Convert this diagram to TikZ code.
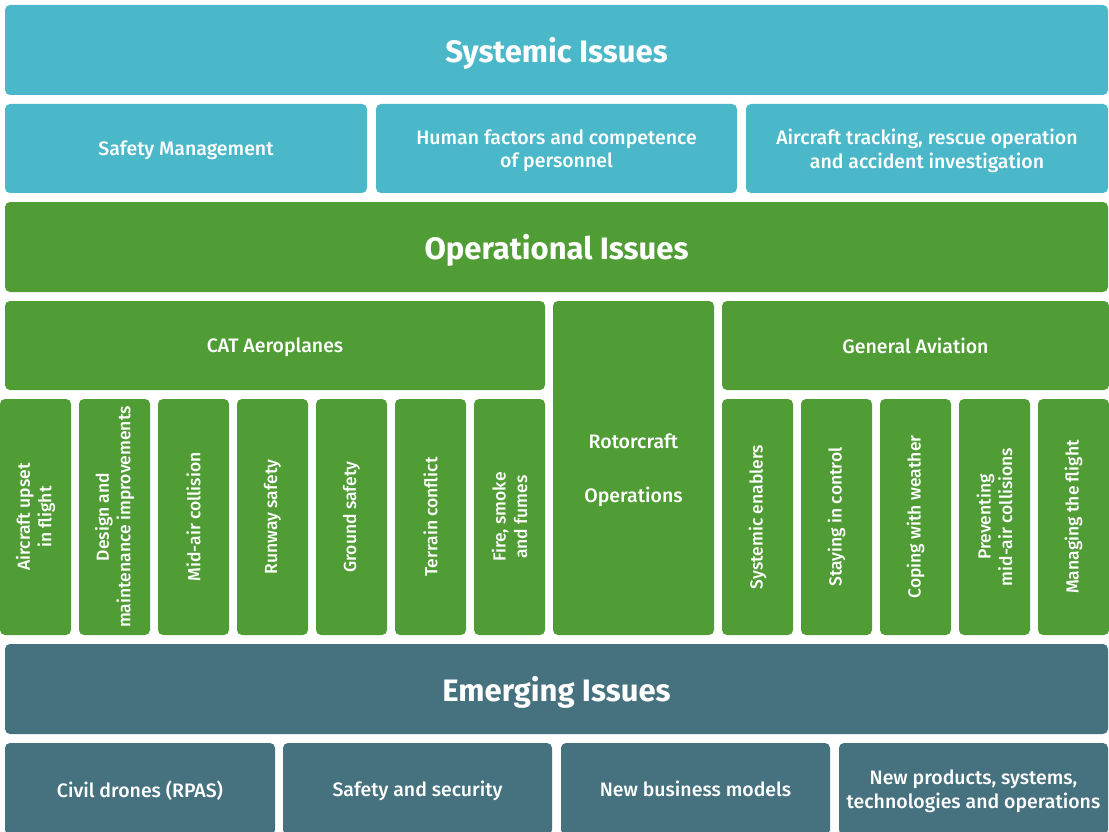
\documentclass[tikz,border=0pt]{standalone}
\usepackage{fontspec}
\setmainfont{Fira Sans}[UprightFont=* Medium, BoldFont=* Bold]
\usepackage{xcolor}
\usepackage{tikz}

\definecolor{sysblue}{HTML}{4BB8CA}
\definecolor{opgreen}{HTML}{509D36}
\definecolor{emteal}{HTML}{46727F}

\begin{document}
\begin{tikzpicture}[x=1pt, y=-1pt,
		tile/.style={rounded corners=5pt, inner sep=0pt, outer sep=0pt, text=white, align=center},
		headtile/.style={tile, text depth=0pt, minimum width=1103pt, minimum height=90pt, font=\fontsize{31}{36}\selectfont\bfseries},
		subtile/.style={tile, text depth=0pt, minimum height=89pt, font=\fontsize{19.5}{23.5}\selectfont},
		issuetile/.style={tile, fill=opgreen, rotate=90, minimum width=236pt, minimum height=71pt, font=\fontsize{17.5}{21.5}\selectfont}]
		\clip (0,0) rectangle (1109,832);
		\fill[white] (0,0) rectangle (1109,832);
		% systemic issues
		\node[headtile, fill=sysblue] (systemic) at (556.5,50) {Systemic Issues};
		\node[subtile, fill=sysblue, minimum width=362pt] (safetymgmt) at (186,148.5) {Safety Management};
		\node[subtile, fill=sysblue, minimum width=361pt] (humanfactors) at (556.5,148.5) {Human factors and competence\\of personnel};
		\node[subtile, fill=sysblue, minimum width=362pt] (tracking) at (927,148.5) {Aircraft tracking, rescue operation\\and accident investigation};
		% operational issues
		\node[headtile, fill=opgreen] (operational) at (556.5,247) {Operational Issues};
		\node[subtile, fill=opgreen, minimum width=540pt] (cat) at (275,345.5) {CAT Aeroplanes};
		\node[subtile, fill=opgreen, minimum width=161pt, minimum height=334pt] (rotorcraft) at (633.5,468) {Rotorcraft\\[31pt]Operations};
		\node[subtile, fill=opgreen, minimum width=387pt] (genaviation) at (915.5,345.5) {General Aviation};
		\node[issuetile] (upset) at (35.5,517) {Aircraft upset\\in flight};
		\node[issuetile] (design) at (114.5,517) {Design and\\maintenance improvements};
		\node[issuetile] (midair) at (193.5,517) {Mid-air collision};
		\node[issuetile] (runway) at (272.5,517) {Runway safety};
		\node[issuetile] (ground) at (351.5,517) {Ground safety};
		\node[issuetile] (terrain) at (430.5,517) {Terrain conflict};
		\node[issuetile] (fire) at (509.5,517) {Fire, smoke\\and fumes};
		\node[issuetile] (enablers) at (757.5,517) {Systemic enablers};
		\node[issuetile] (control) at (836.5,517) {Staying in control};
		\node[issuetile] (weather) at (915.5,517) {Coping with weather};
		\node[issuetile] (preventing) at (994.5,517) {Preventing\\mid-air collisions};
		\node[issuetile] (managing) at (1073.5,517) {Managing the flight};
		% emerging issues
		\node[headtile, fill=emteal] (emerging) at (556.5,689) {Emerging Issues};
		\node[subtile, fill=emteal, minimum width=270pt, minimum height=92pt] (drones) at (140,789) {Civil drones (RPAS)};
		\node[subtile, fill=emteal, minimum width=269pt, minimum height=92pt] (security) at (417.5,789) {Safety and security};
		\node[subtile, fill=emteal, minimum width=269pt, minimum height=92pt] (business) at (695.5,789) {New business models};
		\node[subtile, fill=emteal, minimum width=269pt, minimum height=92pt] (products) at (973.5,789) {New products, systems,\\technologies and operations};
\end{tikzpicture}
\end{document}
